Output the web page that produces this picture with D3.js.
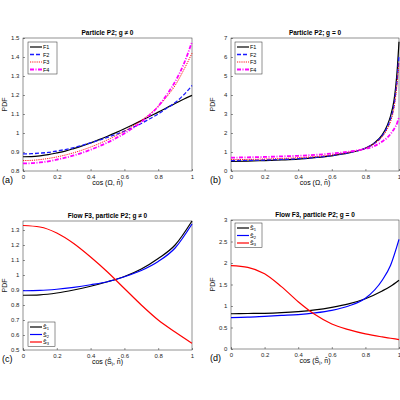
<!DOCTYPE html><html><head><meta charset="utf-8"><script src="https://d3js.org/d3.v7.min.js"></script>
<style>body{margin:0;background:#fff}text{font-family:"Liberation Sans",Arial,sans-serif}</style></head><body>
<svg id="s" width="400" height="400"></svg>
<script>
const xA=[0,0.05,0.1,0.15,0.2,0.25,0.3,0.35,0.4,0.45,0.5,0.55,0.6,0.65,0.7,0.75,0.8,0.85,0.9,0.95,1];
const aF1=[0.875,0.876,0.88,0.886,0.895,0.905,0.918,0.932,0.948,0.965,0.983,1.002,1.022,1.043,1.065,1.088,1.11,1.133,1.155,1.178,1.198];
const aF2=[0.89,0.891,0.894,0.898,0.905,0.913,0.923,0.935,0.948,0.962,0.977,0.993,1.01,1.03,1.05,1.075,1.1,1.13,1.16,1.2,1.25];
const aF3=[0.855,0.856,0.86,0.866,0.874,0.884,0.896,0.91,0.926,0.944,0.964,0.986,1.01,1.037,1.067,1.1,1.14,1.19,1.25,1.33,1.42];
const aF4=[0.84,0.841,0.845,0.851,0.86,0.87,0.882,0.896,0.912,0.93,0.95,0.973,0.998,1.026,1.058,1.095,1.14,1.2,1.27,1.36,1.48];
const xB=[0,0.1,0.2,0.3,0.4,0.5,0.6,0.7,0.8,0.85,0.9,0.93,0.95,0.97,0.98,0.99,0.995,1];
const bF1=[0.5,0.52,0.55,0.58,0.62,0.7,0.8,0.95,1.2,1.45,1.9,2.4,2.9,3.7,4.4,5.4,6.1,6.8];
const bF2=[0.55,0.56,0.58,0.61,0.65,0.72,0.82,0.97,1.2,1.43,1.85,2.3,2.75,3.45,4.1,4.9,5.5,6.1];
const bF3=[0.6,0.61,0.63,0.66,0.7,0.76,0.85,0.99,1.2,1.42,1.8,2.2,2.6,3.3,3.9,4.7,5.2,5.7];
const bF4=[0.7,0.72,0.74,0.77,0.8,0.85,0.92,1.02,1.17,1.3,1.55,1.75,1.95,2.2,2.35,2.55,2.7,2.8];
const xC=[0,0.1,0.2,0.3,0.4,0.5,0.6,0.7,0.8,0.9,1];
const cS1=[0.865,0.868,0.88,0.9,0.925,0.955,0.99,1.04,1.11,1.2,1.36];
const cS2=[0.895,0.897,0.905,0.918,0.935,0.955,0.988,1.03,1.09,1.18,1.34];
const cS3=[1.33,1.32,1.28,1.21,1.12,1.02,0.91,0.8,0.7,0.62,0.545];
const xD=[0,0.1,0.2,0.3,0.4,0.5,0.6,0.7,0.8,0.9,0.95,1];
const dS1=[0.82,0.825,0.83,0.845,0.87,0.91,0.97,1.05,1.17,1.35,1.46,1.6];
const dS2=[0.73,0.74,0.76,0.78,0.8,0.84,0.9,1.0,1.18,1.6,1.95,2.55];
const dS3=[1.94,1.9,1.75,1.45,1.1,0.8,0.58,0.45,0.35,0.28,0.25,0.22];
const ticksX=[0,0.2,0.4,0.6,0.8,1];

const svg=d3.select("#s");
const panels=[
 {x0:23,x1:192,y0:38,y1:171,dom:[0.8,1.5],yt:d3.range(0.8,1.501,0.1),title:"Particle P2; g ≠ 0",lab:"(a)",xl:"Ω",xs:xA,
  series:[[aF1,"#000",1.2,null],[aF2,"#1a1aff",1.3,"4,2"],[aF3,"#ff0000",0.9,"1.2,1"],[aF4,"#ff00ff",1.8,"4,1.5,1,1.5"]],
  leg:{x:28,y:42,w:29,names:["F1","F2","F3","F4"]}},
 {x0:231,x1:399,y0:38,y1:171,dom:[0,7],yt:d3.range(0,7.01,1),title:"Particle P2; g = 0",lab:"(b)",xl:"Ω",xs:xB,
  series:[[bF1,"#000",1.2,null],[bF2,"#1a1aff",1.3,"4,2"],[bF3,"#ff0000",0.9,"1.2,1"],[bF4,"#ff00ff",1.8,"4,1.5,1,1.5"]],
  leg:{x:235,y:42,w:27,names:["F1","F2","F3","F4"]}},
 {x0:23,x1:192,y0:221,y1:350,dom:[0.5,1.36],yt:d3.range(0.5,1.301,0.1),title:"Flow F3, particle P2; g ≠ 0",lab:"(c)",xl:"S",xs:xC,
  series:[[cS1,"#000",1.2,null],[cS2,"#0000ff",1.2,null],[cS3,"#ff0000",1.2,null]],
  leg:{x:28,y:322,w:27,names:["1","2","3"],hat:true}},
 {x0:231,x1:399,y0:220,y1:349,dom:[0,3],yt:d3.range(0,3.01,0.5),title:"Flow F3, particle P2; g = 0",lab:"(d)",xl:"S",xs:xD,
  series:[[dS1,"#000",1.2,null],[dS2,"#0000ff",1.2,null],[dS3,"#ff0000",1.2,null]],
  leg:{x:235,y:223,w:27,names:["1","2","3"],hat:true}}
];
panels.forEach(p=>{
 const x=d3.scaleLinear().domain([0,1]).range([p.x0,p.x1]);
 const y=d3.scaleLinear().domain(p.dom).range([p.y1,p.y0]);
 const g=svg.append("g");
 g.append("rect").attr("x",p.x0).attr("y",p.y0).attr("width",p.x1-p.x0).attr("height",p.y1-p.y0).attr("fill","#fff").attr("stroke","#262626").attr("stroke-width",0.5);
 const ax=g.append("g").attr("transform",`translate(0,${p.y1})`).call(d3.axisBottom(x).tickValues(ticksX).tickSize(-2).tickFormat(d3.format("~g")));
 const ay=g.append("g").attr("transform",`translate(${p.x0},0)`).call(d3.axisLeft(y).tickValues(p.yt).tickSize(-2).tickFormat(d3.format("~g")));
 [ax,ay].forEach(a=>{a.select(".domain").remove();a.selectAll("line").attr("stroke","#262626").attr("stroke-width",0.5);a.selectAll("text").attr("font-size",6).attr("fill","#262626");});
 ax.selectAll("text").attr("dy","0.9em");
 ay.selectAll("text").attr("dx","-0.1em");
 const line=d3.line().x((d,i)=>x(p.xs[i])).y(d=>y(d)).curve(d3.curveMonotoneX);
 p.series.forEach(s=>{g.append("path").attr("d",line(s[0])).attr("fill","none").attr("stroke",s[1]).attr("stroke-width",s[2]).attr("stroke-dasharray",s[3]);});
 g.append("text").attr("x",(p.x0+p.x1)/2).attr("y",p.y0-3).attr("text-anchor","middle").attr("font-size",6.5).attr("font-weight","bold").text(p.title);
 g.append("text").attr("x",p.x0-16).attr("y",(p.y0+p.y1)/2).attr("transform",`rotate(-90,${p.x0-16},${(p.y0+p.y1)/2})`).attr("text-anchor","middle").attr("font-size",7).attr("fill","#262626").text("PDF");
 g.append("text").attr("x",p.x0-21).attr("y",p.y1+12).attr("font-size",9).text(p.lab);
 const xl=g.append("text").attr("x",(p.x0+p.x1)/2).attr("y",p.y1+14).attr("text-anchor","middle").attr("font-size",7).attr("font-family","DejaVu Serif,serif");
 if(p.xl==="Ω") xl.text("cos (Ω, n̂)");
 else {xl.append("tspan").text("cos (Ŝ");xl.append("tspan").attr("font-size",5).attr("dy",1.5).text("i");xl.append("tspan").attr("dy",-1.5).text(", n̂)");}
 const L=p.leg, n=L.names.length, h=n*7.5+2;
 g.append("rect").attr("x",L.x).attr("y",L.y).attr("width",L.w).attr("height",h).attr("fill","#fff").attr("stroke","#262626").attr("stroke-width",0.5);
 L.names.forEach((nm,i)=>{
  const s=p.series[i], yy=L.y+5+i*7.5;
  g.append("line").attr("x1",L.x+2).attr("x2",L.x+14).attr("y1",yy).attr("y2",yy).attr("stroke",s[1]).attr("stroke-width",s[2]).attr("stroke-dasharray",s[3]);
  const t=g.append("text").attr("x",L.x+15).attr("y",yy+2).attr("font-size",5.5);
  if(L.hat){t.attr("font-family","DejaVu Serif,serif");t.append("tspan").text("Ŝ");t.append("tspan").attr("font-size",4).attr("dy",1).text(nm);}
  else t.text(nm);
 });
});
</script></body></html>
